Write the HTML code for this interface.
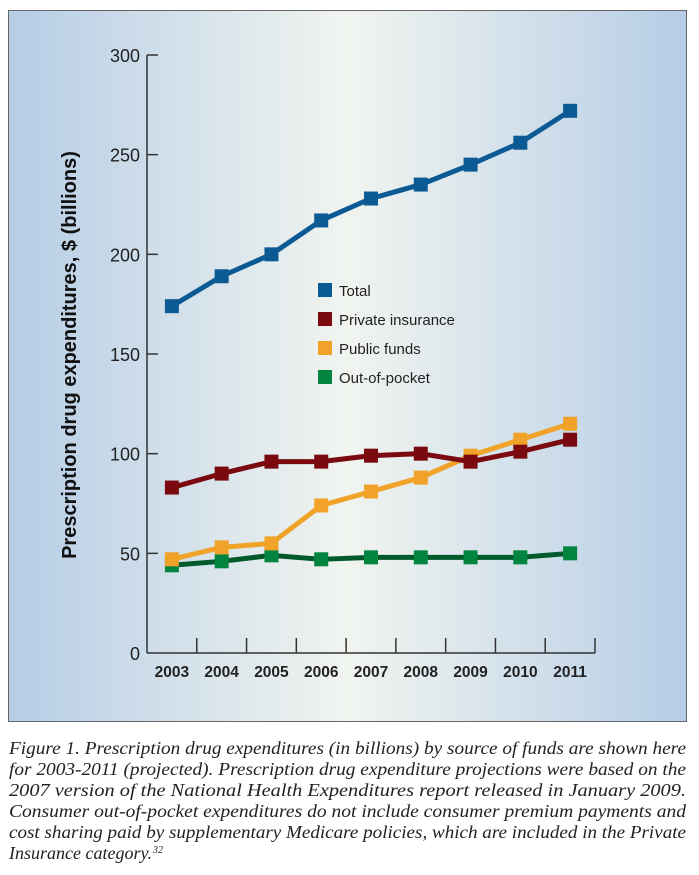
<!DOCTYPE html>
<html><head><meta charset="utf-8"><style>
html,body{margin:0;padding:0;background:#fff;width:699px;height:875px;overflow:hidden}
svg{display:block}
</style></head><body>
<svg id="chart" width="699" height="875" xmlns="http://www.w3.org/2000/svg">
<defs>
<linearGradient id="bg" x1="0" x2="1" y1="0" y2="0">
<stop offset="0" stop-color="#b6cde6"/><stop offset="0.5" stop-color="#f1f4ef"/><stop offset="1" stop-color="#b6cde6"/>
</linearGradient>
</defs>
<rect x="8.5" y="10.5" width="678" height="711" fill="url(#bg)" stroke="#666" stroke-width="1"/>
<g id="axes"></g>
<g id="series"></g>
<g id="legend"></g>
<text transform="translate(76,355) rotate(-90)" text-anchor="middle" font-family="Liberation Sans, sans-serif" font-weight="bold" font-size="20" fill="#111">Prescription drug expenditures, $ (billions)</text>
<g font-family="Liberation Serif, serif" font-style="italic" font-size="17.5" fill="#222">
<text x="9" y="754" textLength="677" lengthAdjust="spacingAndGlyphs">Figure 1. Prescription drug expenditures (in billions) by source of funds are shown here</text>
<text x="9" y="775" textLength="677" lengthAdjust="spacingAndGlyphs">for 2003-2011 (projected). Prescription drug expenditure projections were based on the</text>
<text x="9" y="796" textLength="677" lengthAdjust="spacingAndGlyphs">2007 version of the National Health Expenditures report released in January 2009.</text>
<text x="9" y="817" textLength="677" lengthAdjust="spacingAndGlyphs">Consumer out-of-pocket expenditures do not include consumer premium payments and</text>
<text x="9" y="838" textLength="677" lengthAdjust="spacingAndGlyphs">cost sharing paid by supplementary Medicare policies, which are included in the Private</text>
<text x="9" y="859" textLength="143" lengthAdjust="spacingAndGlyphs">Insurance category.</text>
<text x="153" y="853" font-size="10">32</text>
</g>
</svg>
<script>
const categories = ["2003","2004","2005","2006","2007","2008","2009","2010","2011"];
const totalValues = [174,189,200,217,228,235,245,256,272];
const privateValues = [83,90,96,96,99,100,96,101,107];
const publicValues = [47,53,55,74,81,88,99,107,115];
const oopValues = [44,46,49,47,48,48,48,48,50];
const yTicks = [0,50,100,150,200,250,300];
const seriesNames = ["Total","Private insurance","Public funds","Out-of-pocket"];

const NS = "http://www.w3.org/2000/svg";
const x0 = 147, x1 = 595, y0 = 653, y300 = 55;
const band = (x1 - x0) / categories.length;
function xScale(i){ return x0 + band * (i + 0.5); }
function yScale(v){ return y0 - (v / 300) * (y0 - y300); }
function mk(tag, attrs, parent){ const e = document.createElementNS(NS, tag); for (const k in attrs) e.setAttribute(k, attrs[k]); parent.appendChild(e); return e; }

const axes = document.getElementById('axes');
const yAxis = mk('line', {x1:x0, y1:y300, x2:x0, y2:y0, stroke:'#333', 'stroke-width':1.5}, axes);


const xAxis = mk('line', {x1:x0, y1:y0, x2:x1, y2:y0, stroke:'#333', 'stroke-width':1.5}, axes);


yTicks.forEach(v => {
  const y = yScale(v);
  if (v > 0) {
    const t = mk('line', {x1:x0, y1:y, x2:x0 + 11, y2:y, stroke:'#333', 'stroke-width':1.5}, axes);
    
    
  }
  const lb = mk('text', {x:x0 - 7, y:y + 7, 'text-anchor':'end', 'font-family':'Liberation Sans, sans-serif', 'font-size':18, fill:'#222'}, axes);
  lb.textContent = v;
  
  
});
for (let i = 1; i <= categories.length; i++) {
  const x = x0 + band * i;
  const t = mk('line', {x1:x, y1:y0, x2:x, y2:y0 - 15, stroke:'#333', 'stroke-width':1.5}, axes);
  
  
}
categories.forEach((c, i) => {
  const lb = mk('text', {x:xScale(i), y:y0 + 24, 'text-anchor':'middle', 'font-family':'Liberation Sans, sans-serif', 'font-weight':'bold', 'font-size':15.5, fill:'#222'}, axes);
  lb.textContent = c;
  
  
});

const series = [
  {vals: oopValues, line:'#005a2b', mark:'#00843f', name:'out-of-pocket'},
  {vals: publicValues, line:'#f0a328', mark:'#f0a328', name:'public-funds'},
  {vals: privateValues, line:'#7a0a10', mark:'#7a0a10', name:'private-insurance'},
  {vals: totalValues, line:'#0c5a94', mark:'#0c5a94', name:'total'}
];
const sg = document.getElementById('series');
series.forEach(s => {
  const g = mk('g', {}, sg);
  
  
  const pts = s.vals.map((v, i) => xScale(i) + ',' + yScale(v)).join(' ');
  const pl = mk('polyline', {points:pts, fill:'none', stroke:s.line, 'stroke-width':5, 'stroke-linejoin':'round'}, g);
  
  
  s.vals.forEach((v, i) => {
    const r = mk('rect', {x:xScale(i) - 7, y:yScale(v) - 7, width:14, height:14, fill:s.mark}, g);
    
    
  });
});

const legendColors = ['#0c5a94','#7a0a10','#f0a328','#00843f'];
const lg = document.getElementById('legend');


seriesNames.forEach((n, i) => {
  const y = 290 + i * 29;
  const g = mk('g', {}, lg);
  
  
  mk('rect', {x:318, y:y - 7, width:14, height:14, fill:legendColors[i]}, g);
  const t = mk('text', {x:339, y:y + 6, 'font-family':'Liberation Sans, sans-serif', 'font-size':15, fill:'#222'}, g);
  t.textContent = n;
});
</script>
</body></html>
